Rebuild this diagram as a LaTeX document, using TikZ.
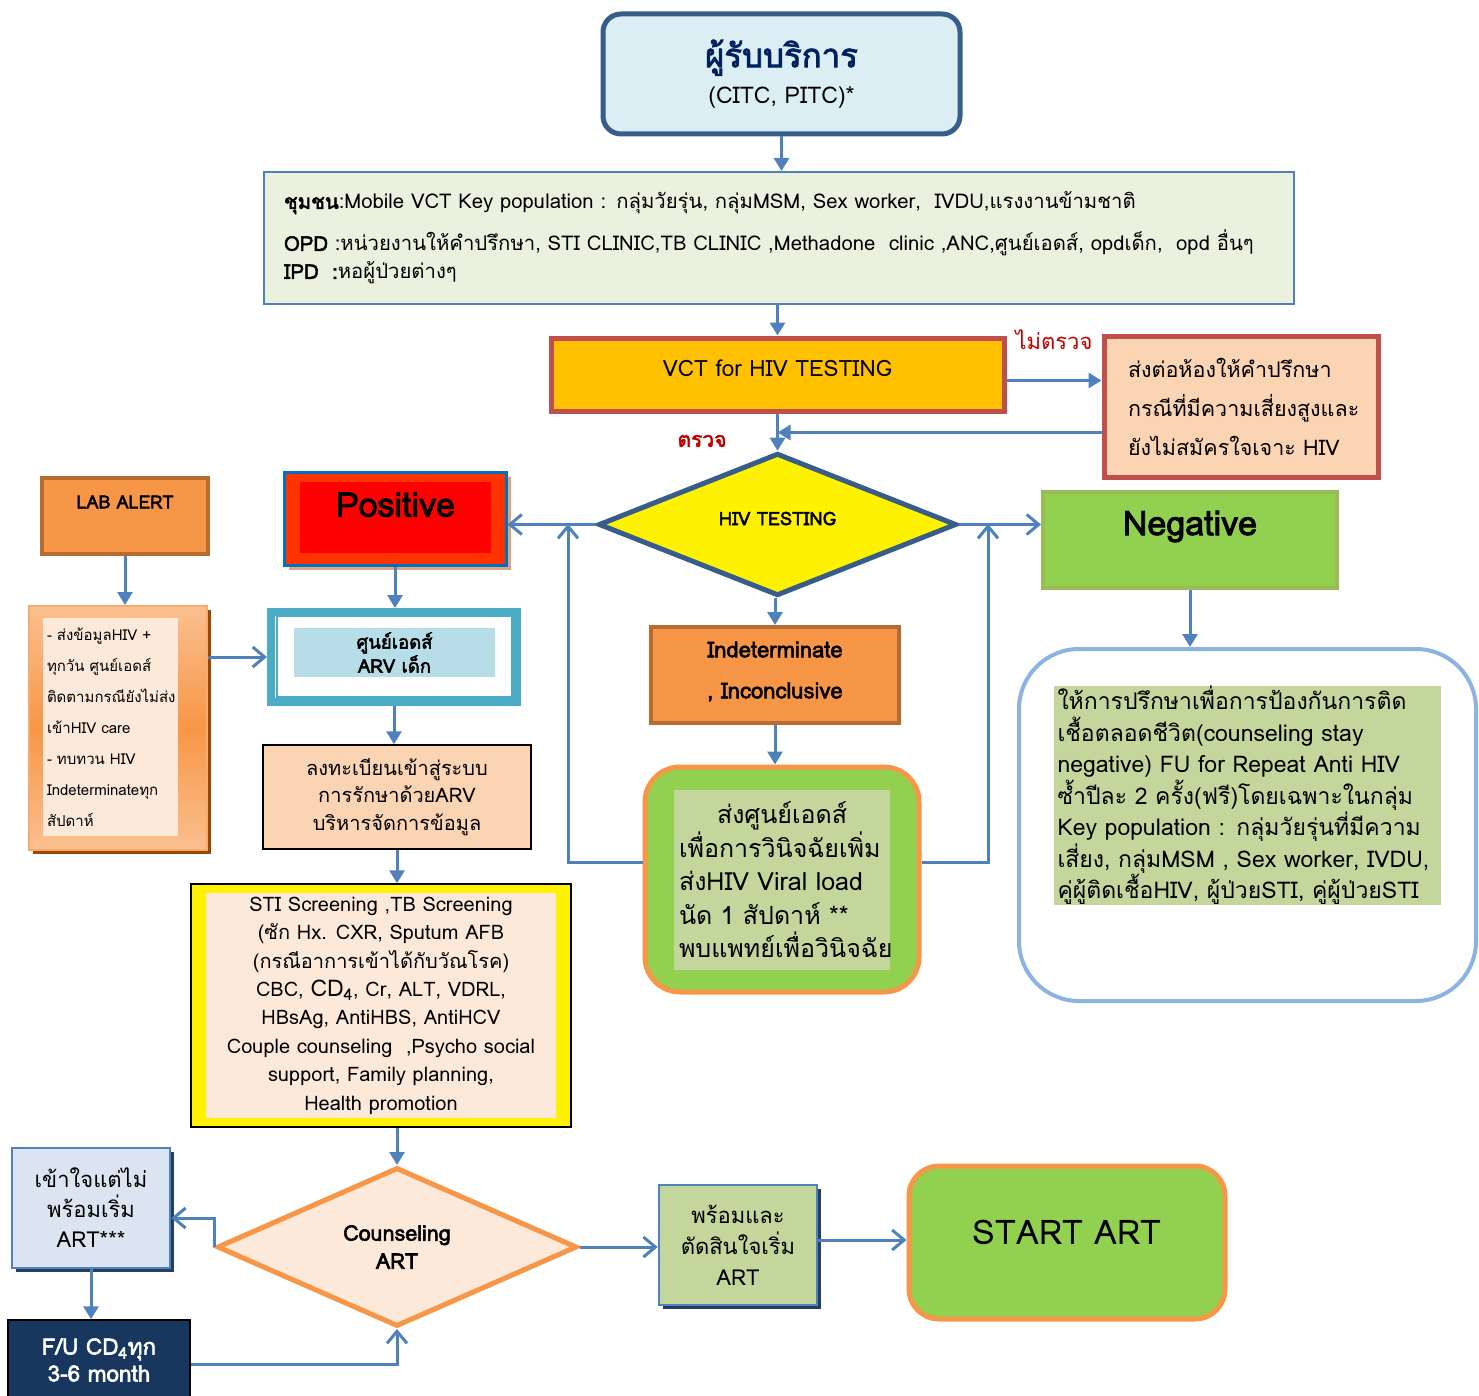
\documentclass[tikz,border=0pt]{standalone}
\usepackage{fontspec}
\setmainfont[Script=Thai,BoldFont=Loma,BoldFeatures={FakeBold=2.5}]{Loma}
\usepackage{xcolor}
\usetikzlibrary{arrows.meta,shapes.geometric,shadows}

\definecolor{linkblue}{HTML}{4F81BD}
\definecolor{navyline}{HTML}{385D8A}
\definecolor{navytext}{HTML}{002060}
\definecolor{paleblue}{HTML}{DAEEF3}
\definecolor{palegreen}{HTML}{EBF1DE}
\definecolor{vctgold}{HTML}{FFC000}
\definecolor{brick}{HTML}{C0504D}
\definecolor{peach}{HTML}{FBD4B4}
\definecolor{lightpeach}{HTML}{FDE9D9}
\definecolor{orangefill}{HTML}{F79646}
\definecolor{orangeedge}{HTML}{B66D31}
\definecolor{leafgreen}{HTML}{92D050}
\definecolor{oliveedge}{HTML}{9BBB59}
\definecolor{sage}{HTML}{C3D69B}
\definecolor{skyline}{HTML}{8DB3E2}
\definecolor{tealedge}{HTML}{4BACC6}
\definecolor{aqua}{HTML}{B7DEE8}
\definecolor{posorange}{HTML}{FF3300}
\definecolor{posblue}{HTML}{0070C0}
\definecolor{tanshadow}{HTML}{D9A582}
\definecolor{rust}{HTML}{984807}
\definecolor{lightorange}{HTML}{FAC090}
\definecolor{mist}{HTML}{DBE5F1}
\definecolor{deepnavy}{HTML}{17375E}
\definecolor{shadownavy}{HTML}{243F60}
\definecolor{darkred}{HTML}{C00000}

\begin{document}
\begin{tikzpicture}[x=1pt,y=-1pt,
  box/.style={draw,rectangle,inner sep=0pt,align=center},
  link/.style={draw=linkblue,line width=3pt},
  barb/.style={-{Straight Barb[width=20pt,length=12pt]}},
  lift/.style={text depth=#1}]
\useasboundingbox (0,0) rectangle (1479,1396);
\begin{scope}[>={Triangle[width=15pt,length=13pt]}]

    \node[box,rounded corners=18pt,draw=navyline,line width=5pt,fill=paleblue,
          minimum width=357,minimum height=120] (client) at (781.5,74)
        {{\fontsize{33}{38}\selectfont\bfseries\color{navytext}ผู้รับบริการ}\\[10pt]
         {\fontsize{23}{28}\selectfont (CITC, PITC)*}};

    \node[box,draw=linkblue,line width=2pt,fill=palegreen,align=left,text width=990,
          minimum width=1030,minimum height=132,font=\fontsize{20.3}{28}\selectfont] (source) at (779,238)
        {\textbf{ชุมชน}:Mobile VCT Key population : กลุ่มวัยรุ่น, กลุ่มMSM, Sex worker,\ \ IVDU,แรงงานข้ามชาติ\\[14pt]
         \textbf{OPD} :หน่วยงานให้คำปรึกษา, STI CLINIC,TB CLINIC ,Methadone\ \ clinic ,ANC,ศูนย์เอดส์, opdเด็ก,\ \ opd อื่นๆ\\
         \textbf{IPD\ \ :}หอผู้ป่วยต่างๆ};

    \node[box,draw=brick,line width=5pt,fill=vctgold,minimum width=453,minimum height=73,
          lift=12pt,font=\fontsize{22.5}{26}\selectfont] (vct) at (777.5,374.5) {VCT for HIV TESTING};

    \node[box,draw=brick,line width=5pt,fill=peach,align=left,text width=226,
          minimum width=274,minimum height=141,font=\fontsize{21.5}{39}\selectfont] (refer) at (1241,406.5)
        {ส่งต่อห้องให้คำปรึกษา\\กรณีที่มีความเสี่ยงสูงและ\\ยังไม่สมัครใจเจาะ HIV};

    \node[inner sep=0pt,text=darkred,font=\fontsize{22}{26}\selectfont] (skip) at (1054,340) {ไม่ตรวจ};
    \node[inner sep=0pt,text=darkred,font=\fontsize{21}{26}\selectfont\bfseries] (test) at (702,441) {ตรวจ};

    \node[diamond,draw=navyline,line width=5pt,fill=yellow,inner sep=0pt,minimum width=358,
          minimum height=123,lift=12pt,font=\fontsize{18.5}{20}\selectfont\bfseries] (hivtest) at (777.5,524.5) {HIV TESTING};

    \draw[link,->] (client.south) -- (client.south |- source.north);
    \draw[link,->] (source.south -| vct.north) -- (vct.north);
    \draw[link,->] ([yshift=-6pt]vct.east) -- ([yshift=-6pt]vct.east -| refer.west);
    \draw[link,->] ([yshift=-26pt]refer.west) -- ([yshift=-26pt]refer.west -| vct.south);
    \draw[link,->] (vct.south) -- (hivtest.north);

    % results
    \node[box,draw=posblue,line width=3pt,fill=posorange,minimum width=222,minimum height=93,
          drop shadow={shadow xshift=5pt,shadow yshift=-5pt,fill=tanshadow,opacity=1}] (pos) at (395,518.5) {};
    \node[box,draw=none,fill=red,minimum width=191,minimum height=71,lift=26pt,
          font=\fontsize{34}{38}\selectfont\bfseries] (postxt) at (395.5,517.5) {Positive};

    \node[box,draw=oliveedge,line width=4pt,fill=leafgreen,minimum width=294,minimum height=96,
          lift=34pt,font=\fontsize{34}{38}\selectfont\bfseries] (neg) at (1190,540) {Negative};

    \node[box,draw=orangeedge,line width=4pt,fill=orangefill,minimum width=248,minimum height=96,
          font=\fontsize{22}{41}\selectfont\bfseries,lift=10pt] (indet) at (775,675) {Indeterminate\\, Inconclusive};

    \draw[link,barb] (hivtest.west) -- (hivtest.west -| pos.east);
    \draw[link,barb] (hivtest.east) -- (hivtest.east -| neg.west);
    \draw[link,->] (hivtest.south -| indet.north) -- (indet.north);

    \node[box,rounded corners=35pt,draw=orangefill,line width=5pt,fill=leafgreen,
          minimum width=274,minimum height=225] (vlbox) at (782,879.5) {};
    \node[box,draw=none,fill=sage,align=left,text width=206,minimum width=216,minimum height=180,
          font=\fontsize{25}{33.5}\selectfont] (vltxt) at (782,880)
        {\hspace*{38pt}ส่งศูนย์เอดส์\\เพื่อการวินิจฉัยเพิ่ม\\ส่งHIV Viral load\\นัด 1 สัปดาห์ **\\พบแพทย์เพื่อวินิจฉัย};

    \draw[link,->] (indet.south) -- (indet.south |- vlbox.north);

    \coordinate (backpos) at (568,524);
    \coordinate (backneg) at (988,524);
    \draw[link,barb] ([yshift=17pt]vlbox.west) -| (backpos);
    \draw[link,barb] ([yshift=17pt]vlbox.east) -| (backneg);

    \node[box,rounded corners=60pt,draw=skyline,line width=4pt,fill=white,
          minimum width=457,minimum height=352] (negcare) at (1247.5,825) {};
    \node[box,draw=none,fill=sage,align=left,text width=380,minimum width=387,minimum height=219,
          font=\fontsize{23}{31.5}\selectfont] (negtxt) at (1247.5,795.5)
        {ให้การปรึกษาเพื่อการป้องกันการติด\\เชื้อตลอดชีวิต(counseling stay\\negative) FU for Repeat Anti HIV\\ซ้ำปีละ 2 ครั้ง(ฟรี)โดยเฉพาะในกลุ่ม\\Key population : กลุ่มวัยรุ่นที่มีความ\\เสี่ยง, กลุ่มMSM , Sex worker, IVDU,\\คู่ผู้ติดเชื้อHIV, ผู้ป่วยSTI, คู่ผู้ป่วยSTI};

    \draw[link,->] (neg.south) -- (neg.south |- negcare.north);

    % positive branch
    \node[box,draw=orangeedge,line width=4pt,fill=orangefill,minimum width=166,minimum height=76,
          lift=28pt,font=\fontsize{18}{20}\selectfont\bfseries] (lab) at (125,516) {LAB ALERT};

    \node[box,draw=orangefill!80,line width=2pt,top color=lightorange,bottom color=lightorange,middle color=orangefill,
          minimum width=178,minimum height=244,
          drop shadow={shadow xshift=4pt,shadow yshift=-4pt,fill=rust,opacity=1}] (labinfo) at (118,728) {};
    \node[box,draw=none,fill=lightpeach,align=left,text width=127,minimum width=135,minimum height=218,
          font=\fontsize{15}{31}\selectfont] (labtxt) at (110.5,727)
        {- ส่งข้อมูลHIV +\\ทุกวัน ศูนย์เอดส์\\ติดตามกรณียังไม่ส่ง\\เข้าHIV care\\- ทบทวน HIV\\Indeterminateทุก\\สัปดาห์};

    \draw[link,->] (lab.south) -- (lab.south |- labinfo.north);

    \node[box,draw=tealedge,line width=8pt,fill=white,minimum width=246,minimum height=90] (arv) at (394,657) {};
    \node[box,draw=tealedge,line width=2pt,minimum width=235,minimum height=81] (arvmid) at (394.5,656.5) {};
    \node[box,draw=none,fill=aqua,minimum width=201,minimum height=49,
          font=\fontsize{18.5}{24}\selectfont\bfseries] (arvtxt) at (394.5,652.5) {ศูนย์เอดส์\\ARV เด็ก};

    \draw[link,->] (pos.south) -- (pos.south |- arv.north);
    \draw[link,barb] (labinfo.east |- arv.west) -- (arv.west);

    \node[box,draw=black,line width=1.5pt,fill=peach,minimum width=268,minimum height=104,
          font=\fontsize{20}{27.5}\selectfont] (reg) at (397,797)
        {ลงทะเบียนเข้าสู่ระบบ\\การรักษาด้วยARV\\บริหารจัดการข้อมูล};

    \draw[link,->] (arv.south) -- (arv.south |- reg.north);

    \node[box,draw=black,line width=1.5pt,fill=yellow,minimum width=380,minimum height=243] (sti) at (381,1005.5) {};
    \node[box,draw=none,fill=lightpeach,minimum width=350,minimum height=225,
          font=\fontsize{20}{28.4}\selectfont] (stitxt) at (381,1005.5)
        {STI Screening ,TB Screening\\(ซัก Hx. CXR, Sputum AFB\\(กรณีอาการเข้าได้กับวัณโรค)\\
         CBC, {\fontsize{23}{28}\selectfont CD\textsubscript{4}}, Cr, ALT, VDRL,\\HBsAg, AntiHBS, AntiHCV\\
         Couple counseling\ \ ,Psycho social\\support, Family planning,\\Health promotion};

    \draw[link,->] (reg.south) -- (reg.south |- sti.north);

    % counseling ART
    \node[diamond,draw=orangefill,line width=5pt,fill=lightpeach,inner sep=0pt,minimum width=360,
          minimum height=159,align=center,font=\fontsize{21.5}{28}\selectfont\bfseries] (couns) at (397,1247) {Counseling\\ART};

    \draw[link,->] (sti.south -| couns.north) -- (couns.north);

    \node[box,draw=linkblue,line width=2.5pt,fill=mist,minimum width=158,minimum height=120,
          drop shadow={shadow xshift=4pt,shadow yshift=-4pt,fill=shadownavy,opacity=1},
          font=\fontsize{22}{30}\selectfont] (wait) at (91,1208) {เข้าใจแต่ไม่\\พร้อมเริ่ม\\ART***};

    \node[box,draw=black,line width=1.5pt,fill=deepnavy,text=white,minimum width=182,minimum height=80,
          font=\fontsize{22.5}{27}\selectfont\bfseries] (fu) at (99,1360) {F/U CD\textsubscript{4}ทุก\\3-6 month};

    \draw[link,barb] (couns.west) |- ([yshift=-10pt]wait.east);
    \draw[link,->] (wait.south) -- (wait.south |- fu.north);
    \draw[link,barb] ([yshift=-4pt]fu.east) -| (couns.south);

    \node[box,draw=linkblue,line width=2.5pt,fill=sage,minimum width=158,minimum height=120,
          drop shadow={shadow xshift=4pt,shadow yshift=-4pt,fill=shadownavy,opacity=1},
          font=\fontsize{22}{31}\selectfont] (ready) at (738,1245) {พร้อมและ\\ตัดสินใจเริ่ม\\ART};

    \node[box,rounded corners=30pt,draw=orangefill,line width=5pt,fill=leafgreen,minimum width=316,
          minimum height=153,lift=20pt,font=\fontsize{34}{40}\selectfont] (art) at (1067,1242.5) {START ART};

    \draw[link,barb] (couns.east) -- (couns.east -| ready.west);
    \draw[link,barb] ([yshift=5pt]ready.east) -- ([yshift=5pt]ready.east -| art.west);

\end{scope}
\end{tikzpicture}
\end{document}
